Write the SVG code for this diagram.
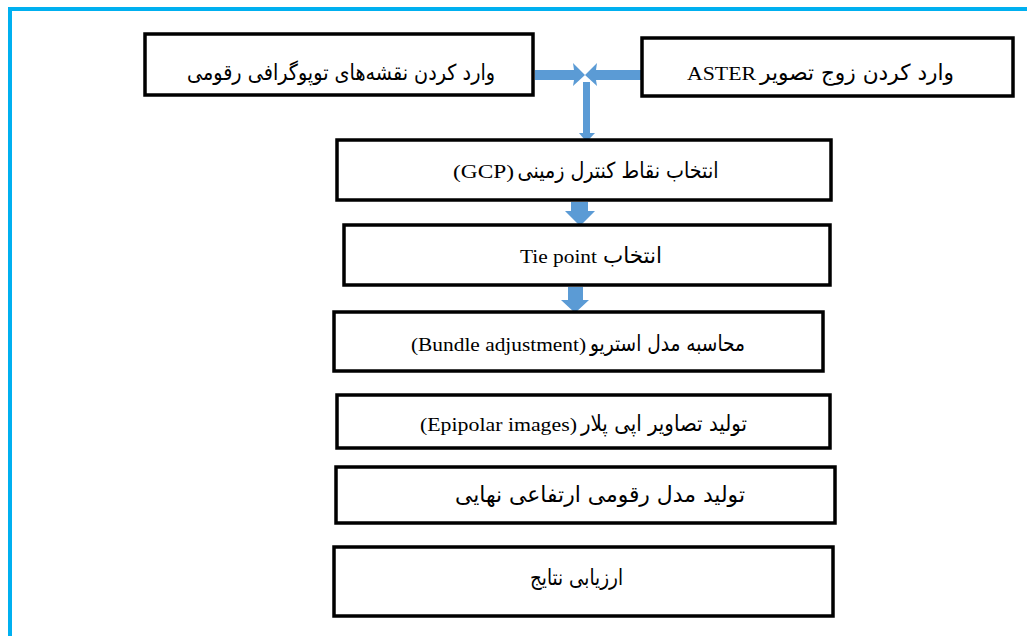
<svg xmlns="http://www.w3.org/2000/svg" width="1027" height="636" viewBox="0 0 1027 636">
<style>
.box{fill:#fff;stroke:#000;stroke-width:3.5}
.lat{font-family:"Liberation Serif","Times New Roman",serif;font-size:19px;fill:#000;text-anchor:start}
.ar{font-family:"DejaVu Sans",sans-serif;font-size:22px;fill:#000;text-anchor:middle;direction:rtl}
.con{fill:#5B9BD5;stroke:none}
.frame{fill:none;stroke:#00B0F0;stroke-width:4}
</style>
<rect width="1027" height="636" fill="#fff"/>
<path class="frame" d="M10,640 V9 H1030"/>
<g id="connectors">
<polygon class="con" points="535,70 574,70 573,63 585,75 573,86 574,80 535,80"/>
<polygon class="con" points="641,70 596,70 597,63 585,75 597,86 596,80 641,80"/>
<polygon class="con" points="583,82 590,82 590,133 595,133 586.5,142 579,133 583,133"/>
<polygon class="con" points="571,202 588,202 588,211 595,211 580,226 565,211 571,211"/>
<polygon class="con" points="568,287 583,287 583,300 589,300 575,313 561,300 568,300"/>
</g>
<g id="n1"><rect class="box" x="145" y="34" width="388" height="61"/>
<text class="ar" x="341" y="80" textLength="308" lengthAdjust="spacingAndGlyphs">وارد کردن نقشه‌های توپوگرافی رقومی</text></g>
<g id="n2"><rect class="box" x="642" y="38" width="371" height="58"/>
<text class="lat" x="687" y="80" textLength="69" lengthAdjust="spacingAndGlyphs">ASTER</text>
<text class="ar" x="857" y="80" textLength="194" lengthAdjust="spacingAndGlyphs">وارد کردن زوج تصویر</text></g>
<g id="n3"><rect class="box" x="337" y="140" width="494" height="60"/>
<text class="lat" x="453" y="178" textLength="61" lengthAdjust="spacingAndGlyphs">(GCP)</text>
<text class="ar" x="618" y="178" textLength="201" lengthAdjust="spacingAndGlyphs">انتخاب نقاط کنترل زمینی</text></g>
<g id="n4"><rect class="box" x="344" y="225" width="486" height="60"/>
<text class="lat" x="520" y="263" textLength="77" lengthAdjust="spacingAndGlyphs">Tie point</text>
<text class="ar" x="632.5" y="263" textLength="59" lengthAdjust="spacingAndGlyphs">انتخاب</text></g>
<g id="n5"><rect class="box" x="334" y="312" width="489" height="59"/>
<text class="lat" x="411" y="351" textLength="175" lengthAdjust="spacingAndGlyphs">(Bundle adjustment)</text>
<text class="ar" x="667.5" y="351" textLength="155" lengthAdjust="spacingAndGlyphs">محاسبه مدل استریو</text></g>
<g id="n6"><rect class="box" x="337" y="395" width="493" height="53"/>
<text class="lat" x="420" y="431" textLength="157" lengthAdjust="spacingAndGlyphs">(Epipolar images)</text>
<text class="ar" x="664" y="431" textLength="166" lengthAdjust="spacingAndGlyphs">تولید تصاویر اپی پلار</text></g>
<g id="n7"><rect class="box" x="336" y="467" width="499" height="56"/>
<text class="ar" x="600" y="502" textLength="290" lengthAdjust="spacingAndGlyphs">تولید مدل رقومی ارتفاعی نهایی</text></g>
<g id="n8"><rect class="box" x="334" y="547" width="499" height="69"/>
<text class="ar" x="576.5" y="585" textLength="93" lengthAdjust="spacingAndGlyphs">ارزیابی نتایج</text></g>
</svg>
